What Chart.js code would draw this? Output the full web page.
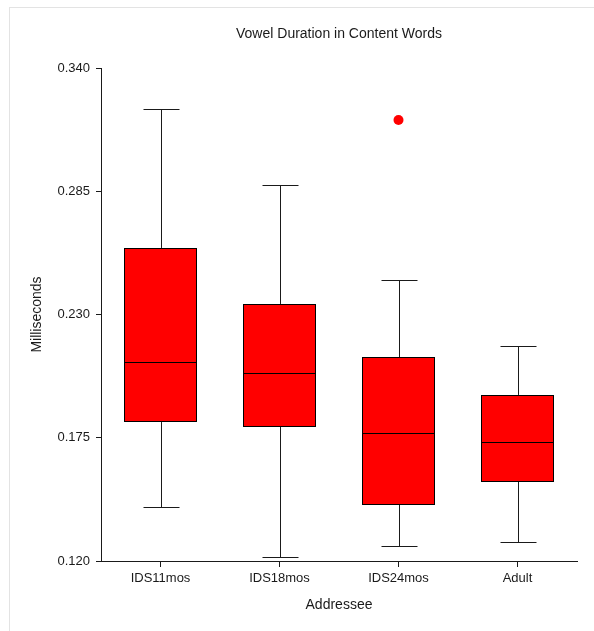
<!DOCTYPE html>
<html>
<head>
<meta charset="utf-8">
<title>Vowel Duration in Content Words</title>
<script src="https://cdn.jsdelivr.net/npm/chart.js@4/dist/chart.umd.min.js"></script>
<style>
  html, body { margin: 0; padding: 0; background: #ffffff; }
  canvas { display: block; }
</style>
</head>
<body>
<canvas id="chart" width="594" height="631"></canvas>
<script>
// Addressee groups and the five-number summaries of vowel duration (seconds)
const categories = ['IDS11mos', 'IDS18mos', 'IDS24mos', 'Adult'];
const whiskerLow  = [0.1441, 0.1218, 0.1267, 0.1285];
const quartile1   = [0.1820, 0.1798, 0.1450, 0.1553];
const medians     = [0.2088, 0.2039, 0.1771, 0.1731];
const quartile3   = [0.2597, 0.2347, 0.2110, 0.1941];
const whiskerHigh = [0.3217, 0.2878, 0.2454, 0.2159];
const outliers    = [null, null, 0.3168, null];
const yTicks      = [0.120, 0.175, 0.230, 0.285, 0.340];

const INK = '#1a1a1a';
const FONT = "'Liberation Sans', Arial, sans-serif";

// Whiskers and caps go under the boxes, medians on top of them
const boxPlotParts = {
  id: 'boxPlotParts',
  beforeDraw(chart) {
    const ctx = chart.ctx;
    ctx.save();
    ctx.strokeStyle = '#e3e3e3';
    ctx.lineWidth = 1;
    ctx.strokeRect(9.5, 7.5, 700, 700);
    ctx.restore();
  },
  beforeDatasetsDraw(chart) {
    const meta = chart.getDatasetMeta(0);
    const y = chart.scales.y;
    const ctx = chart.ctx;
    ctx.save();
    ctx.strokeStyle = INK;
    ctx.lineWidth = 1;
    meta.data.forEach((bar, i) => {
      const x = Math.round(bar.x) + 0.5;
      const half = 18;
      const yLo = Math.round(y.getPixelForValue(whiskerLow[i])) + 0.5;
      const yHi = Math.round(y.getPixelForValue(whiskerHigh[i])) + 0.5;
      const yQ1 = y.getPixelForValue(quartile1[i]);
      const yQ3 = y.getPixelForValue(quartile3[i]);
      ctx.beginPath();
      ctx.moveTo(x, yHi); ctx.lineTo(x, yQ3);
      ctx.moveTo(x, yQ1); ctx.lineTo(x, yLo);
      ctx.moveTo(x - half, yHi); ctx.lineTo(x + half, yHi);
      ctx.moveTo(x - half, yLo); ctx.lineTo(x + half, yLo);
      ctx.stroke();
    });
    ctx.restore();
  },
  afterDatasetsDraw(chart) {
    const meta = chart.getDatasetMeta(0);
    const y = chart.scales.y;
    const ctx = chart.ctx;
    ctx.save();
    ctx.strokeStyle = '#000000';
    ctx.lineWidth = 1;
    meta.data.forEach((bar, i) => {
      const yMed = Math.round(y.getPixelForValue(medians[i])) + 0.5;
      ctx.beginPath();
      ctx.moveTo(bar.x - bar.width / 2, yMed);
      ctx.lineTo(bar.x + bar.width / 2, yMed);
      ctx.stroke();
    });
    ctx.restore();
  }
};

new Chart(document.getElementById('chart'), {
  type: 'bar',
  data: {
    labels: categories,
    datasets: [
      {
        label: 'Interquartile range',
        data: categories.map((_, i) => [quartile1[i], quartile3[i]]),
        backgroundColor: '#ff0000',
        borderColor: '#000000',
        borderWidth: 1,
        borderSkipped: false,
        barPercentage: 1,
        categoryPercentage: 73 / 119
      },
      {
        type: 'line',
        label: 'Outliers',
        data: outliers,
        showLine: false,
        pointRadius: 5,
        pointBackgroundColor: '#ff0000',
        pointBorderColor: '#ff0000',
        pointBorderWidth: 0
      }
    ]
  },
  options: {
    responsive: false,
    devicePixelRatio: 1,
    animation: false,
    layout: { padding: { left: 0, right: 17, top: 0, bottom: 0 } },
    plugins: {
      legend: { display: false },
      tooltip: { enabled: false },
      title: {
        display: true,
        fullSize: false,
        text: 'Vowel Duration in Content Words',
        color: INK,
        font: { family: FONT, size: 14, weight: 'normal', lineHeight: 1.2 },
        padding: { top: 25.6, bottom: 25.6 }
      }
    },
    scales: {
      x: {
        offset: true,
        grid: { display: true, offset: false, drawOnChartArea: false, drawTicks: true, tickLength: 6, color: INK },
        border: { display: true, color: INK, width: 1 },
        ticks: { color: INK, padding: 4, font: { family: FONT, size: 13 } },
        title: {
          display: true,
          text: 'Addressee',
          color: INK,
          font: { family: FONT, size: 14, lineHeight: 1.2 },
          padding: { top: 0, bottom: 17.6 }
        },
        afterFit(scale) { scale.height = 70; }
      },
      y: {
        min: 0.12,
        max: 0.34,
        grid: { display: true, drawOnChartArea: false, drawTicks: true, tickLength: 5, color: INK },
        border: { display: true, color: INK, width: 1 },
        ticks: {
          color: INK,
          padding: 6,
          font: { family: FONT, size: 13 },
          callback: (v) => Number(v).toFixed(3)
        },
        afterBuildTicks(scale) { scale.ticks = yTicks.map(v => ({ value: v })); },
        title: {
          display: true,
          text: 'Milliseconds',
          color: INK,
          font: { family: FONT, size: 14, lineHeight: 1.2 },
          padding: { top: 28.6, bottom: 0 }
        },
        afterFit(scale) { scale.width = 101; }
      }
    }
  },
  plugins: [boxPlotParts]
});
</script>
</body>
</html>
